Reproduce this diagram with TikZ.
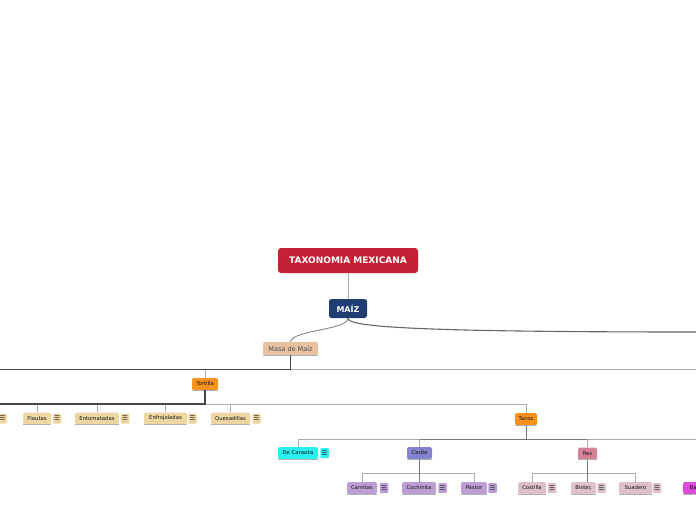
\documentclass[tikz,border=0pt]{standalone}
\usepackage{fontspec}
\setmainfont{DejaVu Sans}
\definecolor{taxred}{RGB}{198,32,52}
\definecolor{maizblue}{RGB}{30,62,114}
\definecolor{masac}{RGB}{232,193,160}
\definecolor{orangec}{RGB}{247,146,30}
\definecolor{beigec}{RGB}{237,214,162}
\definecolor{cyanc}{RGB}{40,240,240}
\definecolor{cerdoc}{RGB}{132,132,206}
\definecolor{purplec}{RGB}{188,158,212}
\definecolor{resc}{RGB}{214,130,150}
\definecolor{pinkc}{RGB}{222,192,202}
\definecolor{magc}{RGB}{220,75,220}
\definecolor{dline}{RGB}{70,70,70}
\definecolor{lline}{RGB}{172,172,172}
\definecolor{mline}{RGB}{120,120,120}
\begin{document}
\begin{tikzpicture}[x=1pt,y=-1pt,
  box/.style={rectangle, rounded corners=1.5pt, inner sep=0pt, text=black!92,
    font=\fontsize{5.3}{6}\selectfont},
  ul/.style={draw=black!30, line width=0.7pt},
  sub/.style={box, minimum height=12pt,
    append after command={(\tikzlastnode.south west) edge[ul] (\tikzlastnode.south east)}},
  icon/.style={rectangle, rounded corners=1pt, inner sep=0pt, minimum width=8.5pt,
    minimum height=10pt, text=black!85, font=\fontsize{6.5}{6.5}\selectfont},
  lightln/.style={draw=lline, line width=0.9pt},
  darkln/.style={draw=dline, line width=1.3pt},
  midln/.style={draw=mline, line width=1pt}]
\useasboundingbox (0,0) rectangle (696,520);

% top nodes
\node[rectangle, rounded corners=3pt, fill=taxred, text=white, inner sep=0pt,
  minimum width=140pt, minimum height=25pt, font=\bfseries\fontsize{9}{10}\selectfont]
  (tax) at (348,260.5) {TAXONOMIA MEXICANA};
\node[rectangle, rounded corners=2.5pt, fill=maizblue, text=white, inner sep=0pt,
  minimum width=38pt, minimum height=19pt, font=\bfseries\fontsize{8}{9}\selectfont]
  (maiz) at (348,308.5) {MAÍZ};
\node[box, fill=masac, text=black!70, minimum width=55pt, minimum height=13pt,
  font=\fontsize{6.5}{7}\selectfont,
  append after command={(\tikzlastnode.south west) edge[ul] (\tikzlastnode.south east)}]
  (masa) at (290.5,348.5) {Masa de Maíz};

% Tortilla level
\node[sub, fill=orangec, minimum width=26pt] (tort) at (205,384) {Tortilla};
\node[sub, fill=orangec, minimum width=22pt] (tacos) at (526,419) {Tacos};

% Tortilla children
\node[icon, fill=beigec] (ic0) at (2.5,418.5) {☰};
\node[sub, fill=beigec, minimum width=28pt] (flau) at (37,418.5) {Flautas};
\node[icon, fill=beigec] (ic1) at (57,418.5) {☰};
\node[sub, fill=beigec, minimum width=44pt] (ento) at (97,418.5) {Entomatadas};
\node[icon, fill=beigec] (ic2) at (125,418.5) {☰};
\node[sub, fill=beigec, minimum width=43pt] (enfr) at (165.5,418.5) {Enfrojoladas};
\node[icon, fill=beigec] (ic3) at (192.5,418.5) {☰};
\node[sub, fill=beigec, minimum width=39pt] (ques) at (230.5,418.5) {Quesadillas};
\node[icon, fill=beigec] (ic4) at (256.5,418.5) {☰};

% Tacos children
\node[sub, fill=cyanc, minimum width=40pt] (decan) at (298,453) {De Canasta};
\node[icon, fill=cyanc] (ic5) at (324.5,453) {☰};
\node[sub, fill=cerdoc, minimum width=25pt] (cerdo) at (419.5,453) {Cerdo};
\node[sub, fill=resc, minimum width=19pt] (res) at (587.5,453.5) {Res};

% Cerdo children
\node[sub, fill=purplec, minimum width=30pt] (carn) at (362,488) {Carnitas};
\node[icon, fill=purplec] (ic6) at (384,488) {☰};
\node[sub, fill=purplec, minimum width=34pt] (coch) at (419,488) {Cochinita};
\node[icon, fill=purplec] (ic7) at (442.5,488) {☰};
\node[sub, fill=purplec, minimum width=26pt] (past) at (474,488) {Pastor};
\node[icon, fill=purplec] (ic8) at (492.5,488) {☰};

% Res children
\node[sub, fill=pinkc, minimum width=28pt] (cost) at (532,488) {Costilla};
\node[icon, fill=pinkc] (ic9) at (552,488) {☰};
\node[sub, fill=pinkc, minimum width=25pt] (bist) at (583.5,488) {Bistec};
\node[icon, fill=pinkc] (ic10) at (601.5,488) {☰};
\node[sub, fill=pinkc, minimum width=33pt] (suad) at (635.5,488) {Suadero};
\node[icon, fill=pinkc] (ic11) at (657,488) {☰};
\node[sub, fill=magc, minimum width=38pt, anchor=west] (barb) at (683,488) {Barbacoa};

% coordinates at the edges and buses
\coordinate (rmaiz) at (696,332);
\coordinate (L1) at (0,369.5);
\coordinate (R1) at (696,369.5);
\coordinate (L2) at (0,404);
\coordinate (R3) at (696,439);
\coordinate (cbus) at (419.5,473);
\coordinate (rbus) at (587.5,473);

% connectors
\draw[lightln] (tax) -- (maiz);
\draw[draw=mline, line width=0.8pt] (maiz.south) .. controls (348,330) and (292,330) .. (masa.north);
\draw[draw=black!60, line width=1.1pt] (maiz.south) .. controls (348,326) and (396,332) .. (rmaiz);

\draw[lightln] (masa.south |- L1) -- (R1);
\draw[lightln] (tort.north) -- (tort.north |- L1);
\draw[darkln] (masa.south) -- (masa.south |- L1) -- (L1);

\draw[lightln] (tort.south |- L2) -| (tacos.north);
\draw[lightln] (flau.north) -- (flau.north |- L2);
\draw[lightln] (ento.north) -- (ento.north |- L2);
\draw[lightln] (enfr.north) -- (enfr.north |- L2);
\draw[lightln] (ques.north) -- (ques.north |- L2);
\draw[darkln] (tort.south) -- (tort.south |- L2) -- (L2);

\draw[lightln] (decan.north) |- (R3);
\draw[midln] (cerdo.north |- R3) -- (res.north |- R3);
\draw[lightln] (cerdo.north) -- (cerdo.north |- R3);
\draw[lightln] (res.north) -- (res.north |- R3);
\draw[midln] (tacos.south) -- (tacos.south |- R3);

\draw[lightln] (carn.north) |- (cbus);
\draw[lightln] (past.north) |- (cbus);
\draw[midln] (cerdo.south) -- (cerdo.south |- coch.north);

\draw[lightln] (cost.north) |- (rbus);
\draw[lightln] (suad.north) |- (rbus);
\draw[midln] (res.south) -- (res.south |- bist.north);
\end{tikzpicture}
\end{document}
